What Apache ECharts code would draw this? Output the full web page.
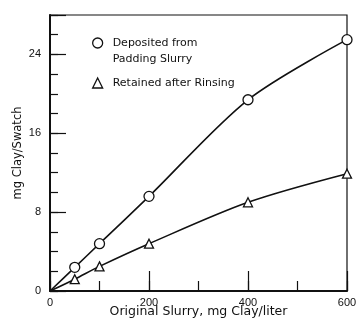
<!DOCTYPE html>
<html>
<head>
<meta charset="utf-8">
<script src="https://cdn.jsdelivr.net/npm/echarts@6/dist/echarts.min.js"></script>
<style>
  html, body { margin: 0; padding: 0; background: #fff; }
  #chart { width: 359px; height: 324px; }
</style>
</head>
<body>
<div id="chart"></div>
<script>
// slurry concentration, mg clay / liter
const slurry = [0, 50, 100, 200, 400, 600];
// mg clay / swatch
const deposited = [0, 2.4, 4.8, 9.6, 19.4, 25.5];
const retained = [0, 1.2, 2.5, 4.8, 9.0, 11.9];

const xMajorTicks = [0, 200, 400, 600];
const yMajorTicks = [0, 8, 16, 24];

const font = 'DejaVu Sans';
const numFont = "'Liberation Sans Narrow', 'Liberation Sans', sans-serif";
const ink = '#111';

function toPoints(vals) {
  return slurry.map((x, i) => {
    // the origin is where the curves start, no marker drawn there
    if (x === 0) return { value: [x, vals[i]], symbol: 'none' };
    return [x, vals[i]];
  });
}

const chart = echarts.init(document.getElementById('chart'));

const axisLine = { lineStyle: { color: ink, width: 2 } };

const option = {
  backgroundColor: '#fff',
  animation: false,
  grid: {
    left: 50, top: 15, right: 12, bottom: 33,
    outerBoundsMode: 'none',
    show: true,
    borderColor: ink,
    borderWidth: 1.2
  },
  legend: {
    orient: 'vertical',
    left: 87,
    top: 14,
    itemWidth: 10,
    itemHeight: 10,
    itemGap: 8,
    textStyle: { fontFamily: font, fontSize: 11, color: ink, lineHeight: 16, padding: [0, 0, 0, 5] },
    data: [
      { name: 'Deposited from', icon: 'circle' },
      { name: 'Retained after Rinsing', icon: 'triangle' }
    ],
    formatter: name => name === 'Deposited from' ? '\nDeposited from\nPadding Slurry' : name,
    itemStyle: { color: '#fff', borderColor: ink, borderWidth: 1.3 }
  },
  xAxis: [
    {
      type: 'value',
      min: 0, max: 600, interval: 200,
      name: 'Original Slurry, mg Clay/liter',
      nameLocation: 'middle',
      nameGap: 14,
      nameMoveOverlap: false,
      nameTextStyle: { fontFamily: font, fontSize: 12.5, color: ink },
      axisLine: axisLine,
      axisTick: { inside: true, length: 20, lineStyle: { color: ink, width: 1.2 } },
      axisLabel: {
        margin: 6, fontFamily: numFont, fontSize: 11, color: ink,
        formatter: v => xMajorTicks.includes(v) ? String(v) : ''
      },
      splitLine: { show: false }
    },
    {
      type: 'value',
      position: 'bottom',
      min: 0, max: 600, interval: 100,
      axisLine: { show: false },
      axisTick: { inside: true, length: 10, lineStyle: { color: ink, width: 1.2 } },
      axisLabel: { show: false },
      splitLine: { show: false }
    }
  ],
  yAxis: [
    {
      type: 'value',
      min: 0, max: 28, interval: 8,
      name: 'mg Clay/Swatch',
      nameLocation: 'middle',
      nameGap: 26,
      nameMoveOverlap: false,
      nameTextStyle: { fontFamily: font, fontSize: 11.5, color: ink },
      axisLine: axisLine,
      axisTick: { inside: true, length: 16, lineStyle: { color: ink, width: 1.2 } },
      axisLabel: {
        margin: 9, fontFamily: numFont, fontSize: 11, color: ink,
        formatter: v => yMajorTicks.includes(v) ? String(v) : ''
      },
      splitLine: { show: false }
    },
    {
      type: 'value',
      position: 'left',
      min: 0, max: 28, interval: 2,
      axisLine: { show: false },
      axisTick: { inside: true, length: 8, lineStyle: { color: ink, width: 1.2 } },
      axisLabel: { show: false },
      splitLine: { show: false }
    }
  ],
  series: [
    {
      name: 'Deposited from',
      type: 'line',
      smooth: 0.3,
      data: toPoints(deposited),
      symbol: 'circle',
      symbolSize: 10,
      lineStyle: { color: ink, width: 1.6 },
      itemStyle: { color: '#fff', borderColor: ink, borderWidth: 1.3 },
      z: 3
    },
    {
      name: 'Retained after Rinsing',
      type: 'line',
      smooth: 0.3,
      data: toPoints(retained),
      symbol: 'triangle',
      symbolSize: 9,
      lineStyle: { color: ink, width: 1.6 },
      itemStyle: { color: '#fff', borderColor: ink, borderWidth: 1.3 },
      z: 3
    }
  ]
};

chart.setOption(option);
</script>
</body>
</html>
